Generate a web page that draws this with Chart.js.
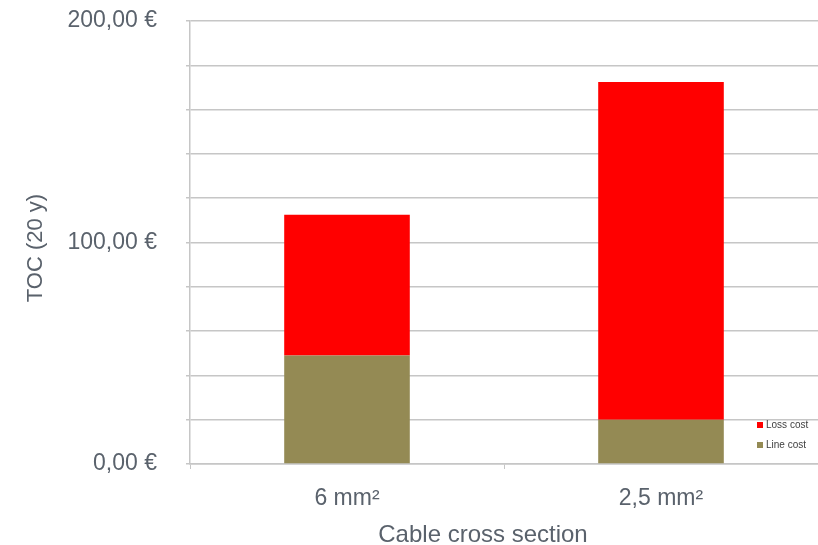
<!DOCTYPE html>
<html>
<head>
<meta charset="utf-8">
<script src="https://cdn.jsdelivr.net/npm/chart.js@4"></script>
<style>
  html, body { margin: 0; padding: 0; background: #fff; }
  #wrap { width: 818px; height: 545px; }
</style>
</head>
<body>
<div id="wrap"><canvas id="myChart" width="818" height="545"></canvas></div>
<script>
// dados do gráfico
const categories = ['6 mm²', '2,5 mm²'];
const lineCost = [49, 20];
const lossCost = [63.5, 152.5];
const seriesNames = ['Line cost', 'Loss cost'];
const yTicks = [0, 100, 200];

const textColor = '#5a626c';
const fontFamily = '"Liberation Sans", Arial, sans-serif';

// títulos dos eixos e legenda desenhados à mão
const extras = {
    id: 'extras',
    afterDraw(chart) {
        const ctx = chart.ctx;
        ctx.save();
        ctx.fillStyle = textColor;
        ctx.textAlign = 'center';
        ctx.textBaseline = 'middle';
        ctx.font = '24px ' + fontFamily;
        ctx.fillText('Cable cross section', 483, 535);
        ctx.translate(36, 248);
        ctx.rotate(-Math.PI / 2);
        ctx.font = '22px ' + fontFamily;
        ctx.fillText('TOC (20 y)', 0, 0);
        ctx.restore();

        // legenda (ordem invertida, como no Excel)
        ctx.save();
        ctx.font = '10px ' + fontFamily;
        ctx.textBaseline = 'middle';
        ctx.textAlign = 'left';
        const ds = chart.data.datasets.slice().reverse();
        ds.forEach((d, i) => {
            const y = 425 + i * 20;
            ctx.fillStyle = d.backgroundColor;
            ctx.fillRect(757, y - 3, 6, 6);
            ctx.fillStyle = '#404040';
            ctx.fillText(d.label, 766, y);
        });
        ctx.restore();
    }
};

const config = {
    type: 'bar',
    data: {
        labels: categories,
        datasets: [
            { label: seriesNames[0], data: lineCost, backgroundColor: '#948a54' },
            { label: seriesNames[1], data: lossCost, backgroundColor: '#ff0000' }
        ]
    },
    options: {
        responsive: false,
        animation: false,
        layout: { padding: { top: 21, right: 0, bottom: 0, left: 0 } },
        datasets: { bar: { barPercentage: 0.4, categoryPercentage: 1 } },
        plugins: {
            legend: { display: false },
            tooltip: { enabled: false }
        },
        scales: {
            x: {
                stacked: true,
                offset: true,
                afterFit: s => { s.height = 81; s.paddingLeft = 0; s.paddingRight = 0; },
                grid: {
                    display: true,
                    drawOnChartArea: false,
                    offset: true,
                    tickLength: 5,
                    color: '#c6c6c6'
                },
                border: { color: '#c6c6c6', width: 1.5 },
                ticks: {
                    color: textColor,
                    padding: 16,
                    font: { family: fontFamily, size: 23 }
                }
            },
            y: {
                stacked: true,
                min: 0,
                max: 200,
                afterFit: s => { s.width = 190; s.paddingTop = 0; s.paddingBottom = 0; },
                grid: { color: '#c6c6c6', lineWidth: 1.5, tickLength: 4 },
                border: { color: '#c6c6c6', width: 1.5 },
                ticks: {
                    stepSize: 20,
                    autoSkip: false,
                    padding: 29,
                    color: textColor,
                    font: { family: fontFamily, size: 23 },
                    callback: v => yTicks.includes(v) ? v.toFixed(2).replace('.', ',') + ' €' : ''
                }
            }
        }
    },
    plugins: [extras]
};

const myChart = new Chart(document.getElementById('myChart').getContext('2d'), config);
</script>
</body>
</html>
